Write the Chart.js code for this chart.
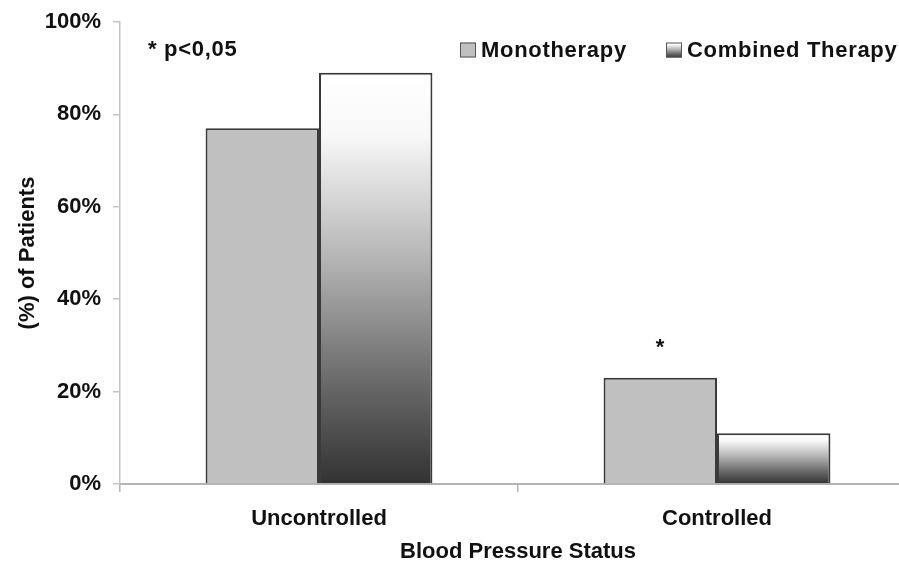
<!DOCTYPE html>
<html>
<head>
<meta charset="utf-8">
<script src="https://cdn.jsdelivr.net/npm/chart.js@4.4.1/dist/chart.umd.min.js"></script>
<style>
  html, body { margin: 0; padding: 0; background: #fff; overflow: hidden; }
  #wrap { position: relative; width: 930px; height: 570px; }
</style>
</head>
<body>
<div id="wrap"><canvas id="c"></canvas></div>
<script>
const categories = ['Uncontrolled', 'Controlled'];
const seriesNames = ['Monotherapy', 'Combined Therapy'];
const monotherapy = [77, 23];
const combinedTherapy = [89, 11];
const yTickValues = [0, 20, 40, 60, 80, 100];
const significanceNote = '* p<0,05';
const significantMarks = [false, true]; // star above monotherapy bar

const FONT = '"Liberation Sans", Arial, sans-serif';
const TEXT = '#111111';

function barGradient(ctx, top, bottom) {
  const g = ctx.createLinearGradient(0, top, 0, bottom);
  g.addColorStop(0, '#ffffff');
  g.addColorStop(0.15, '#f8f8f8');
  g.addColorStop(0.45, '#b5b5b5');
  g.addColorStop(0.75, '#6a6a6a');
  g.addColorStop(1, '#323232');
  return g;
}

const annotations = {
  id: 'annotations',
  afterDatasetsDraw(chart) {
    const { ctx, chartArea } = chart;
    ctx.save();
    ctx.font = 'bold 22px ' + FONT;
    ctx.fillStyle = TEXT;
    ctx.textBaseline = 'middle';
    if ('letterSpacing' in ctx) ctx.letterSpacing = '0.7px';
    // significance note
    ctx.textAlign = 'left';
    ctx.fillText(significanceNote, chartArea.left + 28, chartArea.top + 28);
    // stars above monotherapy bars
    const meta = chart.getDatasetMeta(0);
    meta.data.forEach((bar, i) => {
      if (!significantMarks[i]) return;
      ctx.textAlign = 'center';
      ctx.textBaseline = 'alphabetic';
      ctx.fillText('*', bar.x, bar.y - 24);
    });
    // legend
    ctx.textBaseline = 'middle';
    ctx.textAlign = 'left';
    const ly = chartArea.top + 28;
    const items = [
      { x: chartArea.left + 340, fill: '#c0c0c0' },
      { x: chartArea.left + 546, fill: null }
    ];
    items.forEach((it, i) => {
      const sx = it.x, sy = ly - 7.5, sw = 16, sh = 15;
      ctx.fillStyle = it.fill || barGradient(ctx, sy, sy + sh);
      ctx.fillRect(sx, sy, sw, sh);
      ctx.strokeStyle = '#555555';
      ctx.lineWidth = 1;
      ctx.strokeRect(sx + 0.5, sy + 0.5, sw - 1, sh - 1);
      ctx.fillStyle = TEXT;
      ctx.fillText(seriesNames[i], sx + 21, ly + 1);
    });
    ctx.restore();
  }
};

new Chart(document.getElementById('c'), {
  type: 'bar',
  data: {
    labels: categories,
    datasets: [
      {
        label: seriesNames[0],
        data: monotherapy,
        backgroundColor: '#c0c0c0',
        borderColor: '#3a3a3a',
        borderWidth: 2,
        borderSkipped: 'bottom',
        categoryPercentage: 0.57,
        barPercentage: 1.0
      },
      {
        label: seriesNames[1],
        data: combinedTherapy,
        backgroundColor: (c) => {
          const chart = c.chart;
          if (!chart.chartArea || !chart.scales.y) return '#888888';
          const y = chart.scales.y;
          const top = y.getPixelForValue(c.raw);
          const bottom = y.getPixelForValue(0);
          return barGradient(chart.ctx, top, bottom);
        },
        borderColor: '#3a3a3a',
        borderWidth: 2,
        borderSkipped: 'bottom',
        categoryPercentage: 0.57,
        barPercentage: 1.0
      }
    ]
  },
  options: {
    responsive: true,
    maintainAspectRatio: false,
    animation: false,
    layout: { padding: { left: 0, right: 14, top: 22, bottom: 0 } },
    plugins: {
      legend: { display: false },
      tooltip: { enabled: false }
    },
    scales: {
      x: {
        offset: true,
        grid: {
          display: true,
          offset: true,
          drawOnChartArea: false,
          drawTicks: true,
          tickLength: 8,
          color: '#b4b4b4',
          lineWidth: 1.5
        },
        border: { display: true, color: '#b4b4b4', width: 2 },
        ticks: {
          color: TEXT,
          padding: 14,
          font: { family: FONT, size: 22, weight: 'bold' }
        },
        title: {
          display: true,
          text: 'Blood Pressure Status',
          color: TEXT,
          font: { family: FONT, size: 22, weight: 'bold' },
          padding: { top: 4, bottom: 5 }
        },
        afterFit: (s) => { s.height = 86; }
      },
      y: {
        min: 0,
        max: 100,
        afterBuildTicks: (s) => { s.ticks = yTickValues.map(v => ({ value: v })); },
        grid: {
          display: true,
          drawOnChartArea: false,
          drawTicks: true,
          tickLength: 7,
          color: '#c4c4c4',
          lineWidth: 1.5
        },
        border: { display: true, color: '#c4c4c4', width: 1.5 },
        ticks: {
          color: TEXT,
          padding: 12,
          font: { family: FONT, size: 22, weight: 'bold' },
          callback: (v) => v + '%'
        },
        title: {
          display: true,
          text: '(%) of Patients',
          color: TEXT,
          font: { family: FONT, size: 22, weight: 'bold' },
          padding: { top: 15, bottom: 4 }
        },
        afterFit: (s) => { s.width = 120; s.paddingTop = 0; s.paddingBottom = 0; }
      }
    }
  },
  plugins: [annotations]
});
</script>
</body>
</html>
